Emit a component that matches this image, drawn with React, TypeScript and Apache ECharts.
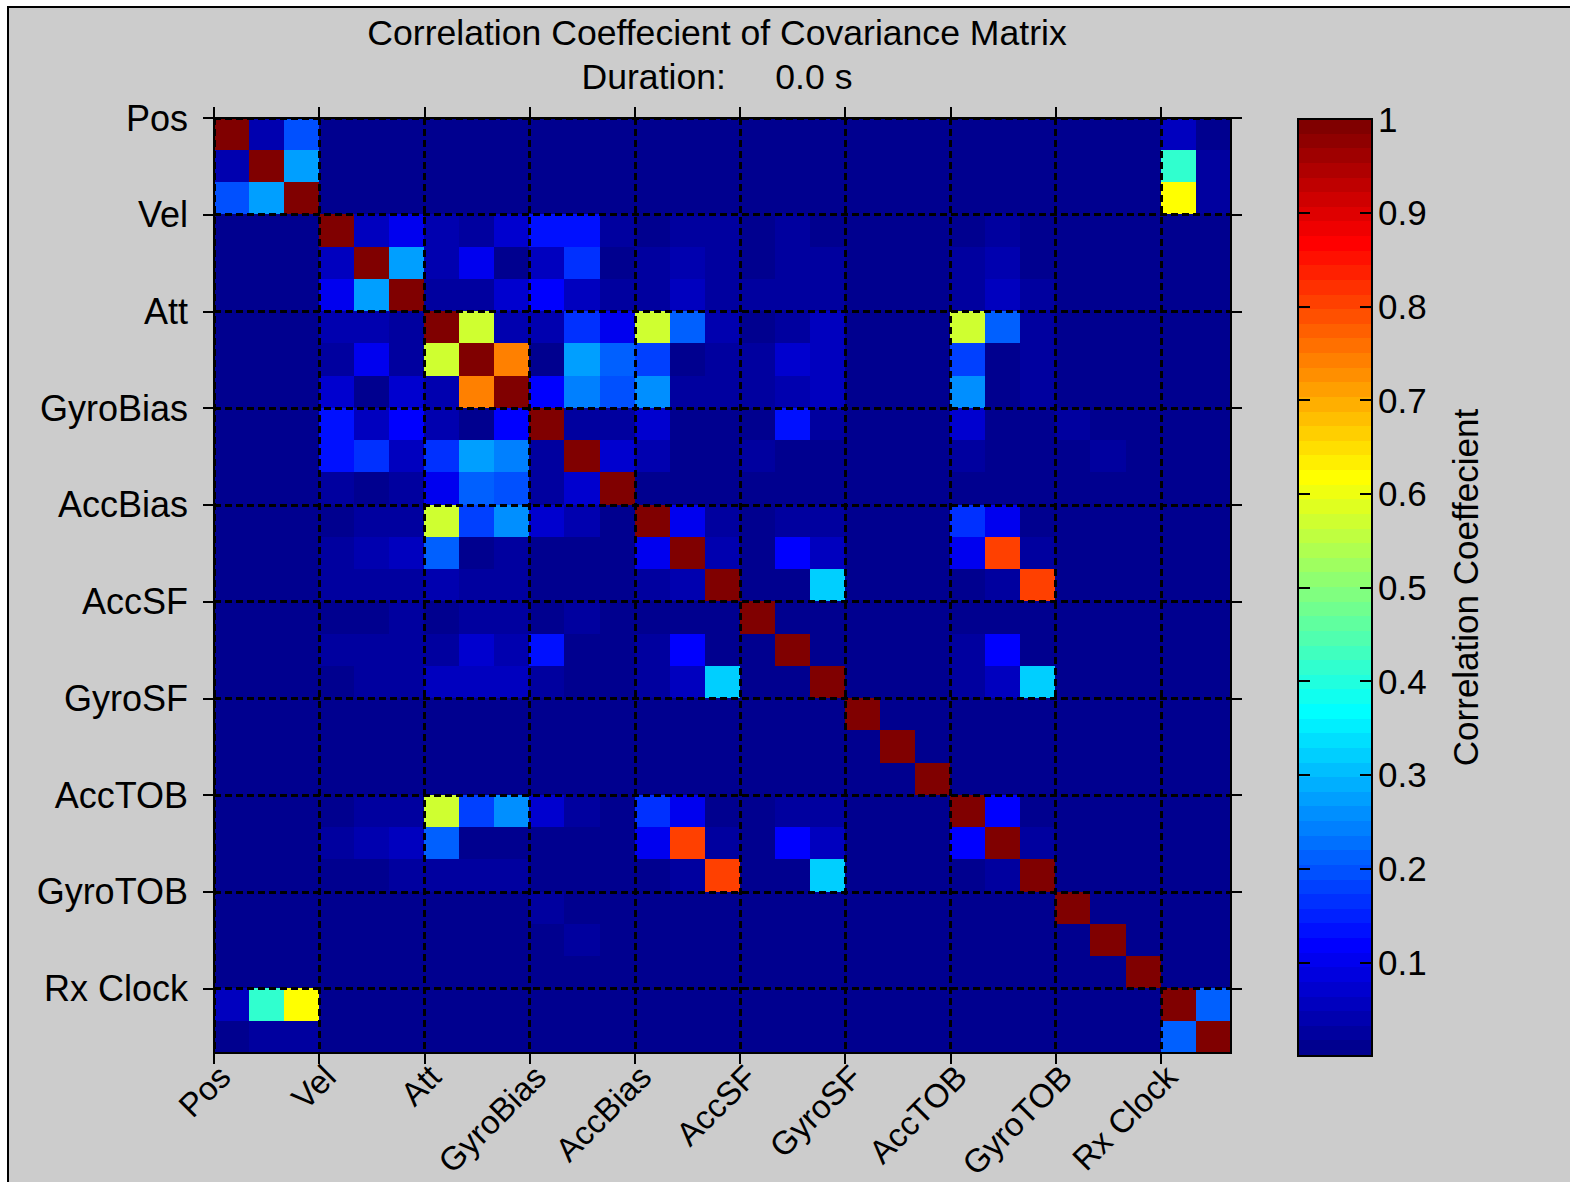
import React, { useEffect, useRef } from "react";
import * as echarts from "echarts";

// ---- data ----
const groupLabels = ["Pos", "Vel", "Att", "GyroBias", "AccBias", "AccSF", "GyroSF", "AccTOB", "GyroTOB", "Rx Clock"];
const groupStarts = [0, 3, 6, 9, 12, 15, 18, 21, 24, 27];
const stateCount = 29;
const colorbarTicks = [0.1, 0.2, 0.3, 0.4, 0.5, 0.6, 0.7, 0.8, 0.9, 1];
const titleLine1 = "Correlation Coeffecient of Covariance Matrix";
const titleLine2 = "Duration:\u00a0\u00a0\u00a0\u00a0\u00a00.0 s";
const colorbarName = "Correlation Coeffecient";

// correlation coefficient matrix (rows top -> bottom, columns left -> right)
const corr: number[][] = [
  [1, .04, .195, 0, 0, 0, 0, 0, 0, 0, 0, 0, 0, 0, 0, 0, 0, 0, 0, 0, 0, 0, 0, 0, 0, 0, 0, .055, 0],
  [.04, 1, .275, 0, 0, 0, 0, 0, 0, 0, 0, 0, 0, 0, 0, 0, 0, 0, 0, 0, 0, 0, 0, 0, 0, 0, 0, .415, .02],
  [.195, .275, 1, 0, 0, 0, 0, 0, 0, 0, 0, 0, 0, 0, 0, 0, 0, 0, 0, 0, 0, 0, 0, 0, 0, 0, 0, .615, .025],
  [0, 0, 0, 1, .05, .1, .04, .02, .07, .14, .13, .02, 0, .02, .02, 0, .02, 0, 0, 0, 0, 0, .02, 0, 0, 0, 0, 0, 0],
  [0, 0, 0, .05, 1, .275, .035, .1, 0, .06, .17, 0, .02, .04, .02, 0, .02, .025, 0, 0, 0, .02, .035, 0, 0, 0, 0, 0, 0],
  [0, 0, 0, .1, .275, 1, .025, .025, .075, .115, .06, .02, .02, .06, .025, .02, .03, .02, 0, 0, 0, .02, .055, .02, 0, 0, 0, 0, 0],
  [0, 0, 0, .04, .035, .025, 1, .57, .04, .035, .16, .1, .57, .21, .035, 0, .02, .05, 0, 0, 0, .57, .21, .03, 0, 0, 0, 0, 0],
  [0, 0, 0, .02, .1, .025, .57, 1, .74, 0, .275, .205, .175, 0, .025, .02, .075, .05, 0, 0, 0, .175, 0, .02, 0, 0, 0, 0, 0],
  [0, 0, 0, .07, 0, .075, .04, .74, 1, .115, .24, .195, .26, .02, .02, .02, .04, .05, 0, 0, 0, .26, 0, .02, 0, 0, 0, 0, 0],
  [0, 0, 0, .14, .06, .115, .035, 0, .115, 1, .02, .03, .07, 0, 0, 0, .13, .02, 0, 0, 0, .07, 0, 0, .02, 0, 0, 0, 0],
  [0, 0, 0, .13, .17, .06, .16, .275, .24, .02, 1, .07, .035, 0, 0, .022, 0, 0, 0, 0, 0, .03, 0, 0, 0, .02, 0, 0, 0],
  [0, 0, 0, .02, 0, .02, .1, .205, .195, .03, .07, 1, 0, 0, 0, 0, 0, 0, 0, 0, 0, 0, 0, 0, 0, 0, 0, 0, 0],
  [0, 0, 0, 0, .02, .02, .57, .175, .26, .07, .035, 0, 1, .105, .025, 0, .025, .025, 0, 0, 0, .16, .1, 0, 0, 0, 0, 0, 0],
  [0, 0, 0, .02, .04, .06, .21, 0, .02, 0, 0, 0, .105, 1, .035, 0, .115, .055, 0, 0, 0, .105, .8, .03, 0, 0, 0, 0, 0],
  [0, 0, 0, .02, .02, .025, .035, .025, .02, 0, 0, 0, .025, .035, 1, 0, 0, .315, 0, 0, 0, 0, .025, .8, 0, 0, 0, 0, 0],
  [0, 0, 0, 0, 0, .02, 0, .02, .02, 0, .022, 0, 0, 0, 0, 1, 0, 0, 0, 0, 0, 0, 0, 0, 0, 0, 0, 0, 0],
  [0, 0, 0, .02, .02, .03, .02, .075, .04, .13, 0, 0, .025, .115, 0, 0, 1, 0, 0, 0, 0, .02, .115, 0, 0, 0, 0, 0, 0],
  [0, 0, 0, 0, .025, .02, .05, .05, .05, .02, 0, 0, .025, .055, .315, 0, 0, 1, 0, 0, 0, .025, .06, .315, 0, 0, 0, 0, 0],
  [0, 0, 0, 0, 0, 0, 0, 0, 0, 0, 0, 0, 0, 0, 0, 0, 0, 0, 1, 0, 0, 0, 0, 0, 0, 0, 0, 0, 0],
  [0, 0, 0, 0, 0, 0, 0, 0, 0, 0, 0, 0, 0, 0, 0, 0, 0, 0, 0, 1, 0, 0, 0, 0, 0, 0, 0, 0, 0],
  [0, 0, 0, 0, 0, 0, 0, 0, 0, 0, 0, 0, 0, 0, 0, 0, 0, 0, 0, 0, 1, 0, 0, 0, 0, 0, 0, 0, 0],
  [0, 0, 0, 0, .02, .02, .57, .175, .26, .07, .03, 0, .16, .105, 0, 0, .02, .025, 0, 0, 0, 1, .11, 0, 0, 0, 0, 0, 0],
  [0, 0, 0, .02, .035, .055, .21, 0, 0, 0, 0, 0, .1, .8, .025, 0, .115, .06, 0, 0, 0, .11, 1, .025, 0, 0, 0, 0, 0],
  [0, 0, 0, 0, 0, .02, .03, .02, .02, 0, 0, 0, 0, .03, .8, 0, 0, .315, 0, 0, 0, 0, .025, 1, 0, 0, 0, 0, 0],
  [0, 0, 0, 0, 0, 0, 0, 0, 0, .02, 0, 0, 0, 0, 0, 0, 0, 0, 0, 0, 0, 0, 0, 0, 1, 0, 0, 0, 0],
  [0, 0, 0, 0, 0, 0, 0, 0, 0, 0, .02, 0, 0, 0, 0, 0, 0, 0, 0, 0, 0, 0, 0, 0, 0, 1, 0, 0, 0],
  [0, 0, 0, 0, 0, 0, 0, 0, 0, 0, 0, 0, 0, 0, 0, 0, 0, 0, 0, 0, 0, 0, 0, 0, 0, 0, 1, 0, 0],
  [.055, .415, .615, 0, 0, 0, 0, 0, 0, 0, 0, 0, 0, 0, 0, 0, 0, 0, 0, 0, 0, 0, 0, 0, 0, 0, 0, 1, .205],
  [0, .02, .025, 0, 0, 0, 0, 0, 0, 0, 0, 0, 0, 0, 0, 0, 0, 0, 0, 0, 0, 0, 0, 0, 0, 0, 0, .205, 1],
];

// ---- MATLAB jet(64) colormap ----
function jetColor(k: number): string {
  const c = (v: number) => Math.round(Math.max(0, Math.min(1, v)) * 255);
  const r = c(Math.min((k - 24) / 16, (72 - k) / 16));
  const g = c(Math.min((k - 8) / 16, (56 - k) / 16));
  const b = c(Math.min((k + 8) / 16, (40 - k) / 16));
  return `rgb(${r},${g},${b})`;
}

const FONT = "'Liberation Sans', Arial, Helvetica, sans-serif";

export default function App() {
  const ref = useRef<HTMLDivElement>(null);

  useEffect(() => {
    if (!ref.current) return;
    const chart = echarts.init(ref.current, null, { renderer: "svg" });

    const idx = Array.from({ length: stateCount }, (_, i) => String(i));
    const cells: number[][] = [];
    corr.forEach((row, r) => row.forEach((v, c) => cells.push([c, r, v])));

    const pieces: any[] = [];
    for (let k = 1; k <= 64; k++) {
      const p: any = { gte: (k - 1) / 64, color: jetColor(k) };
      if (k < 64) p.lt = k / 64;
      else p.lte = 1;
      pieces.push(p);
    }

    const groupName = (v: number) => {
      const i = groupStarts.indexOf(Math.round(v * 1000) / 1000);
      return i >= 0 ? groupLabels[i] : "";
    };

    const black = { color: "#000", width: 2 };
    const dashed = { color: "#000", width: 2.5, type: [7, 4] };
    const labelStyle = { fontFamily: FONT, fontSize: 36, color: "#000" };
    const titleStyle = { fontFamily: FONT, fontSize: 35.6, fontWeight: "normal", color: "#000" };
    const barOverlap = 1;

    const option: any = {
      animation: false,
      graphic: [
        {
          type: "rect",
          z: -10,
          silent: true,
          shape: { x: 8, y: 7, width: 1600, height: 1200 },
          style: { fill: "#cccccc", stroke: "#000", lineWidth: 2 },
        },
      ],
      title: [
        { text: titleLine1, left: 717, top: 15, textAlign: "center", padding: 0, textStyle: titleStyle },
        { text: titleLine2, left: 717, top: 59, textAlign: "center", padding: 0, textStyle: titleStyle },
      ],
      grid: [
        {
          left: 214, top: 118, width: 1017, height: 935, containLabel: false, outerBoundsMode: "none",
          show: true, backgroundColor: jetColor(1), borderWidth: 0,
        },
        { left: 1298, top: 119, width: 74, height: 937, containLabel: false, outerBoundsMode: "none" },
      ],
      xAxis: [
        { type: "category", gridIndex: 0, data: idx, show: false },
        {
          type: "value", gridIndex: 0, position: "bottom", min: 0, max: stateCount, interval: 3, z: 10,
          axisLine: { show: true, onZero: false, lineStyle: black },
          axisTick: { show: true, inside: false, length: 11, lineStyle: black, customValues: groupStarts },
          axisLabel: { show: false },
          splitLine: { show: true, lineStyle: dashed },
        },
        {
          type: "value", gridIndex: 0, position: "top", min: 0, max: stateCount, interval: 3, z: 10,
          axisLine: { show: true, onZero: false, lineStyle: black },
          axisTick: { show: true, inside: false, length: 11, lineStyle: black, customValues: groupStarts },
          axisLabel: { show: false },
          splitLine: { show: false },
        },
        {
          type: "value", gridIndex: 0, position: "bottom", min: -0.3, max: stateCount - 0.3, z: 10,
          axisLine: { show: false, onZero: false },
          axisTick: { show: false },
          splitLine: { show: false },
          axisLabel: {
            show: true, rotate: 45, margin: 18, customValues: groupStarts,
            formatter: (v: number) => groupName(v), ...labelStyle, fontSize: 33,
          },
        },
        {
          type: "value", gridIndex: 1, position: "bottom", min: 0, max: 1, z: 10,
          axisLine: { show: true, onZero: false, lineStyle: black },
          axisTick: { show: false }, axisLabel: { show: false }, splitLine: { show: false },
        },
        {
          type: "value", gridIndex: 1, position: "top", min: 0, max: 1, z: 10,
          axisLine: { show: true, onZero: false, lineStyle: black },
          axisTick: { show: false }, axisLabel: { show: false }, splitLine: { show: false },
        },
      ],
      yAxis: [
        { type: "category", gridIndex: 0, data: idx, inverse: true, show: false },
        {
          type: "value", gridIndex: 0, position: "left", min: 0, max: stateCount, interval: 3, inverse: true, z: 10,
          axisLine: { show: true, onZero: false, lineStyle: black },
          axisTick: { show: true, inside: false, length: 11, lineStyle: black, customValues: groupStarts },
          axisLabel: { show: true, margin: 26, formatter: (v: number) => groupName(v), ...labelStyle },
          splitLine: { show: true, lineStyle: dashed },
        },
        {
          type: "value", gridIndex: 0, position: "right", min: 0, max: stateCount, interval: 3, inverse: true, z: 10,
          axisLine: { show: true, onZero: false, lineStyle: black },
          axisTick: { show: true, inside: false, length: 11, lineStyle: black, customValues: groupStarts },
          axisLabel: { show: false },
          splitLine: { show: false },
        },
        {
          type: "value", gridIndex: 1, position: "right", min: 0, max: 1, interval: 0.1, z: 10,
          axisLine: { show: true, onZero: false, lineStyle: black },
          axisTick: { show: true, inside: true, length: 12, lineStyle: black },
          axisLabel: {
            show: true, margin: 6,
            formatter: (v: number) => {
              const r = Math.round(v * 10) / 10;
              return colorbarTicks.indexOf(r) >= 0 ? String(r) : "";
            },
            fontFamily: FONT, fontSize: 35, color: "#000",
          },
          splitLine: { show: false },
          name: colorbarName,
          nameLocation: "middle",
          nameGap: 76,
          nameRotate: 90,
          nameTextStyle: { fontFamily: FONT, fontSize: 35, color: "#000" },
        },
        {
          type: "value", gridIndex: 1, position: "left", min: 0, max: 1, interval: 0.1, z: 10,
          axisLine: { show: true, onZero: false, lineStyle: black },
          axisTick: { show: true, inside: true, length: 12, lineStyle: black },
          axisLabel: { show: false },
          splitLine: { show: false },
        },
      ],
      visualMap: {
        type: "piecewise",
        seriesIndex: 0,
        dimension: 2,
        pieces,
        orient: "vertical",
        left: 1298,
        top: 119,
        itemWidth: 74,
        itemHeight: (937 + 63 * barOverlap) / 64,
        itemGap: -barOverlap,
        padding: 0,
        showLabel: false,
        itemSymbol: "rect",
        selectedMode: false,
        hoverLink: false,
        z: 4,
      },
      series: [
        {
          type: "heatmap",
          xAxisIndex: 0,
          yAxisIndex: 0,
          data: cells,
          progressive: 0,
          emphasis: { disabled: true },
          z: 2,
        },
      ],
    };

    chart.setOption(option);
    return () => chart.dispose();
  }, []);

  return (
    <div style={{ position: "fixed", left: 0, top: 0, width: 1570, height: 1182, background: "#fff" }}>
      <style>{`.corr-chart svg rect, .corr-chart svg path { shape-rendering: crispEdges; }`}</style>
      <div className="corr-chart" ref={ref} style={{ width: 1570, height: 1182 }} />
    </div>
  );
}
